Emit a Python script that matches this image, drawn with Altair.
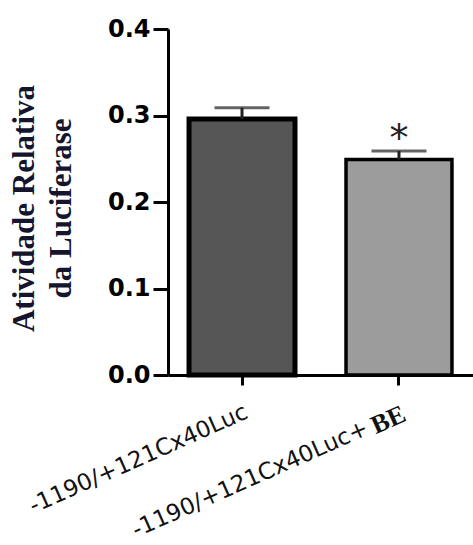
import altair as alt
import pandas as pd

# ---- data ----
categories = ["-1190/+121Cx40Luc", "-1190/+121Cx40Luc+ BE"]
label_main = ["-1190/+121Cx40Luc", "-1190/+121Cx40Luc+"]
label_suffix = ["", "BE"]
means = [0.296, 0.249]
errors = [0.013, 0.010]
signif = ["", "*"]
y_ticks = [0.0, 0.1, 0.2, 0.3, 0.4]
y_title = ["Atividade Relativa", "da Luciferase"]

df = pd.DataFrame({
    "cat": categories,
    "main": label_main,
    "suffix": label_suffix,
    "mean": means,
    "err": errors,
    "sig": signif,
})
df["upper"] = df["mean"] + df["err"]

x_enc = alt.X(
    "cat:N",
    sort=categories,
    scale=alt.Scale(paddingInner=0.325, paddingOuter=0.134),
    axis=alt.Axis(labels=False, title=None, ticks=True, tickSize=10, tickWidth=3,
                  tickColor="black", domainColor="black", domainWidth=3),
)

y_scale = alt.Scale(domain=[0, 0.4], nice=False, zero=True)
y_axis = alt.Axis(
    values=y_ticks, format=".1f", grid=False,
    title=y_title,
    labelFont="DejaVu Sans", labelFontWeight="bold", labelFontSize=24, labelColor="black",
    labelPadding=3, tickSize=15, tickWidth=3, tickColor="black",
    domainColor="black", domainWidth=3,
    titleFont="Liberation Serif", titleFontWeight="bold", titleFontSize=31,
    titleColor="#15152e", titleLineHeight=37, titleAngle=270,
    titleX=-144, titleY=179, titleAlign="center", titleBaseline="middle",
)

base = alt.Chart(df)

bars = base.mark_bar(stroke="black").encode(
    x=x_enc,
    y=alt.Y("mean:Q", scale=y_scale, axis=y_axis),
    fill=alt.Fill("cat:N", scale=alt.Scale(domain=categories, range=["#565656", "#9c9c9c"]), legend=None),
    strokeWidth=alt.StrokeWidth("cat:N", scale=alt.Scale(domain=categories, range=[5, 3.5]), legend=None),
)

stems = base.mark_rule(color="#222222", strokeWidth=3).encode(
    x=x_enc,
    y=alt.Y("mean:Q", scale=y_scale, axis=y_axis),
    y2="upper:Q",
)

caps = base.mark_tick(color="#222222", thickness=3, size=55, orient="horizontal").encode(
    x=x_enc,
    y=alt.Y("upper:Q", scale=y_scale, axis=y_axis),
)

stars = base.mark_text(font="DejaVu Sans", fontSize=38, baseline="alphabetic", color="#222222").encode(
    x=x_enc,
    y=alt.Y("upper:Q", scale=y_scale, axis=y_axis),
    text="sig:N",
)

lab_plain = base.transform_filter(alt.datum.suffix == "").mark_text(
    font="DejaVu Sans", fontSize=23, align="right", baseline="top", angle=336, color="#111111"
).encode(x=x_enc, y=alt.value(372), text="main:N")

lab_pre = base.transform_filter(alt.datum.suffix != "").mark_text(
    font="DejaVu Sans", fontSize=23, align="right", baseline="top", angle=336, dx=-40, color="#111111"
).encode(x=x_enc, y=alt.value(372), text="main:N")

lab_suf = base.transform_filter(alt.datum.suffix != "").mark_text(
    font="Liberation Serif", fontWeight="bold", fontSize=26, align="right", baseline="top", angle=336,
    color="#111111"
).encode(x=x_enc, y=alt.value(372), text="suffix:N")

chart = alt.layer(bars, stems, caps, stars, lab_plain, lab_pre, lab_suf).properties(
    width=305, height=346,
    padding={"left": 168, "top": 29, "right": 0, "bottom": 170},
    autosize=alt.AutoSizeParams(type="none"),
    background="white",
).configure_view(stroke=None)

chart.save("out.html", embed_options={"renderer": "svg", "actions": False})
